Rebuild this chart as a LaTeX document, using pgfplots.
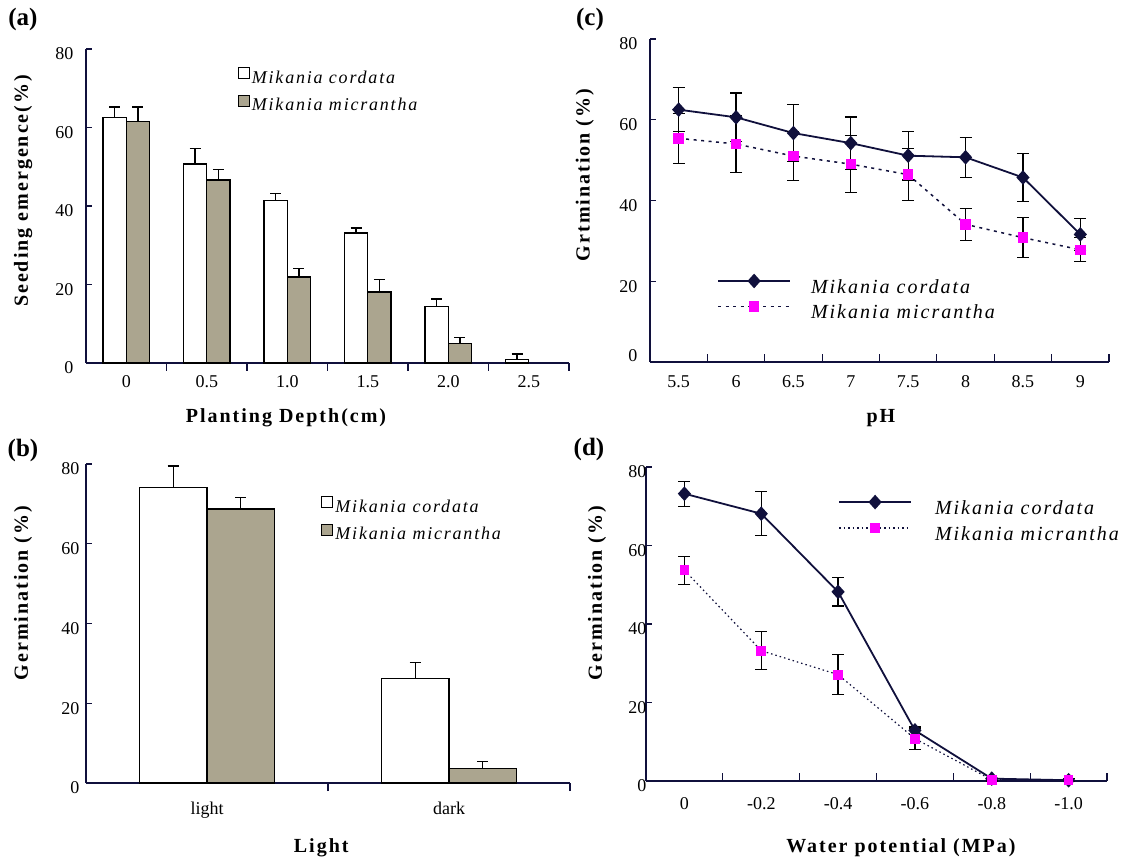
\documentclass[border=0pt]{standalone}
\usepackage{pgfplots}
\pgfplotsset{compat=1.18}
\usepackage{fontspec}
\setmainfont{Liberation Serif}
\newfontfamily\spfont[LetterSpace=10]{Liberation Serif}
\definecolor{navy}{HTML}{10103C}
\definecolor{khaki}{HTML}{ABA58F}
\definecolor{pink}{HTML}{FF00FF}

% depth (a)
\pgfplotstableread{
x y e
0 62.5 2.7
1 50.7 3.9
2 41.4 1.7
3 33.1 1.3
4 14.4 1.9
5 0.9 1.4
}\depthcor
\pgfplotstableread{
x y e
0 61.5 3.7
1 46.6 2.7
2 21.9 2.2
3 18.1 3.2
4 5.0 1.4
}\depthmic
% light (b)
\pgfplotstableread{
x y e
0 74.2 5.3
1 26.2 4.1
}\lightcor
\pgfplotstableread{
x y e
0 68.7 2.9
1 3.7 1.6
}\lightmic
% pH (c)
\pgfplotstableread{
x y e
0 62.5 5.5
1 60.6 6.0
2 56.7 7.0
3 54.2 6.5
4 51.1 6.0
5 50.7 5.0
6 45.7 6.0
7 31.6 4.0
}\phcor
\pgfplotstableread{
x y e
0 55.4 6.2
1 54.0 7.0
2 51.0 6.0
3 49.0 7.0
4 46.4 6.5
5 34.1 4.0
6 30.8 5.0
7 27.8 3.0
}\phmic
% water potential (d)
\pgfplotstableread{
x y e
0 73.2 3.2
1 68.1 5.6
2 48.2 3.6
3 12.9 1.0
4 0.6 0.0
5 0.2 0.0
}\wpcor
\pgfplotstableread{
x y e
0 53.7 3.6
1 33.2 4.8
2 27.1 5.1
3 10.8 2.7
4 0.3 0.3
5 0.3 0.3
}\wpmic

\pgfplotsset{
  panel/.style={
    scale only axis,
    axis x line*=bottom, axis y line*=left,
    axis line style={navy, line width=2.2pt},
    every tick/.style={navy, line width=1.2pt},
    tick align=inside,
    ymin=0, ymax=80, ytick={0,20,...,80},
    major tick length=6pt, minor tick length=8pt,
    major x tick style={draw=none},
    tick label style={font=\fontsize{18}{20}\selectfont},
    /pgf/number format/assume math mode=true,
    yticklabel style={xshift=-9pt, yshift=-5pt},
    label style={font=\spfont\bfseries\fontsize{20}{22}\selectfont},
    xlabel style={anchor=center},
    ylabel style={anchor=center},
    legend cell align=left,
    clip=false,
  },
  barleg/.style={legend image code/.code={\draw[##1, line width=1pt] (0pt,-1pt) rectangle (11pt,10pt);}},
  barplot/.style={draw=black, line width=1.2pt,
    error bars/.cd, y dir=plus, y explicit,
    error bar style={black, line width=1.2pt},
    error mark options={rotate=90, black, line width=1.2pt, mark size=5.5pt}},
  lineerr/.style={error bars/.cd, y dir=both, y explicit,
    error bar style={black, line width=1.2pt, solid},
    error mark options={rotate=90, black, line width=1.2pt, mark size=6pt, solid}},
  lineleg/.style={legend image code/.code={\draw[mark repeat=2, mark phase=2, ##1] plot coordinates {(0pt,6pt) (36pt,6pt) (72pt,6pt)};}},
}

\begin{document}
\begin{tikzpicture}
\useasboundingbox (0,0) rectangle (1131pt,862pt);

% (a)
\begin{axis}[panel, at={(86pt,499pt)}, anchor=south west, width=483pt, height=314pt,
  xmin=-0.5, xmax=5.5, xtick={0,...,5}, xticklabels={0,0.5,1.0,1.5,2.0,2.5},
  minor xtick={0.5,1.5,...,5.5}, xticklabel style={yshift=-3pt},
  ybar=0pt, bar width=0.29,
  xlabel={Planting Depth(cm)}, ylabel={Seeding emergence(\%)},
  xlabel style={at={(axis description cs:0.414,-0.175)}},
  ylabel style={at={(axis description cs:-0.130,0.548)}},
  barleg,
  legend style={draw=none, fill=none, at={(axis description cs:0.314,0.943)}, anchor=north west,
    inner sep=0pt, row sep=10pt, column sep=2pt, nodes={inner sep=0pt},
    font=\spfont\itshape\fontsize{18}{20}\selectfont}]
\addplot[fill=white, barplot] table[x=x, y=y, y error=e] {\depthcor};
\addplot[fill=khaki, barplot] table[x=x, y=y, y error=e] {\depthmic};
\legend{Mikania cordata, Mikania micrantha}
\end{axis}

% (b)
\begin{axis}[panel, at={(86pt,79pt)}, anchor=south west, width=484pt, height=319pt,
  xmin=-0.5, xmax=1.5, xtick={0,1}, xticklabels={light,dark},
  minor xtick={0.5,1.5}, xticklabel style={yshift=-9pt},
  yticklabel style={xshift=6pt},
  ybar=0pt, bar width=0.28,
  xlabel={Light}, ylabel={Germination (\%)},
  xlabel style={at={(axis description cs:0.486,-0.204)}},
  ylabel style={at={(axis description cs:-0.130,0.596)}},
  barleg,
  legend style={draw=none, fill=none, at={(axis description cs:0.486,0.90)}, anchor=north west,
    inner sep=0pt, row sep=10pt, column sep=2pt, nodes={inner sep=0pt},
    font=\spfont\itshape\fontsize{18}{20}\selectfont}]
\addplot[fill=white, barplot] table[x=x, y=y, y error=e] {\lightcor};
\addplot[fill=khaki, barplot] table[x=x, y=y, y error=e] {\lightmic};
\legend{Mikania cordata, Mikania micrantha}
\end{axis}

% (c)
\begin{axis}[panel, at={(650pt,500pt)}, anchor=south west, width=459pt, height=323pt,
  xmin=-0.5, xmax=7.5, xtick={0,...,7}, xticklabels={5.5,6,6.5,7,7.5,8,8.5,9},
  yticklabels={\raisebox{22pt}{0},20,40,60,80},
  minor xtick={0.5,1.5,...,7.5}, xticklabel style={yshift=-10pt},
  xlabel={pH}, ylabel={Grtmination (\%)},
  xlabel style={at={(axis description cs:0.503,-0.173)}},
  ylabel style={at={(axis description cs:-0.142,0.579)}},
  lineleg,
  legend style={draw=none, fill=none, at={(axis description cs:0.146,0.270)}, anchor=north west,
    inner sep=0pt, row sep=7.5pt, column sep=20pt, nodes={inner sep=0pt},
    font=\spfont\itshape\fontsize{20}{22}\selectfont}]
\addplot[navy, line width=1.8pt, mark=diamond*, mark size=6pt,
  mark options={solid, fill=navy, xscale=1.2}, lineerr] table[x=x, y=y, y error=e] {\phcor};
\addplot[navy, line width=1.5pt, dash pattern=on 3pt off 4.5pt, mark=square*, mark size=4.5pt,
  mark options={solid, fill=pink, draw=pink}, lineerr] table[x=x, y=y, y error=e] {\phmic};
\legend{Mikania cordata, Mikania micrantha}
\end{axis}

% (d)
\begin{axis}[panel, at={(646pt,81pt)}, anchor=south west, width=461pt, height=314pt,
  xmin=-0.5, xmax=5.5, xtick={0,...,5}, xticklabels={0,-0.2,-0.4,-0.6,-0.8,-1.0},
  minor xtick={0.5,1.5,...,5.5}, xticklabel style={yshift=-13pt},
  yticklabel style={xshift=13pt},
  xlabel={Water potential (MPa)}, ylabel={Germination (\%)},
  xlabel style={at={(axis description cs:0.553,-0.213)}},
  ylabel style={at={(axis description cs:-0.106,0.599)}},
  lineleg,
  legend style={draw=none, fill=none, at={(axis description cs:0.4165,0.908)}, anchor=north west,
    inner sep=0pt, row sep=8pt, column sep=23pt, nodes={inner sep=0pt},
    font=\spfont\itshape\fontsize{20}{22}\selectfont}]
\addplot[navy, line width=1.8pt, mark=diamond*, mark size=6pt,
  mark options={solid, fill=navy, xscale=1.2}, lineerr] table[x=x, y=y, y error=e] {\wpcor};
\addplot[navy, line width=1.2pt, dash pattern=on 1.5pt off 3pt, mark=square*, mark size=4.3pt,
  mark options={solid, fill=pink, draw=pink}, lineerr] table[x=x, y=y, y error=e] {\wpmic};
\legend{Mikania cordata, Mikania micrantha}
\end{axis}

\node[font=\bfseries\fontsize{25}{27}\selectfont] at (23pt,843pt) {(a)};
\node[font=\bfseries\fontsize{25}{27}\selectfont] at (23pt,412pt) {(b)};
\node[font=\bfseries\fontsize{25}{27}\selectfont] at (590pt,843pt) {(c)};
\node[font=\bfseries\fontsize{25}{27}\selectfont] at (589pt,413pt) {(d)};
\end{tikzpicture}
\end{document}
